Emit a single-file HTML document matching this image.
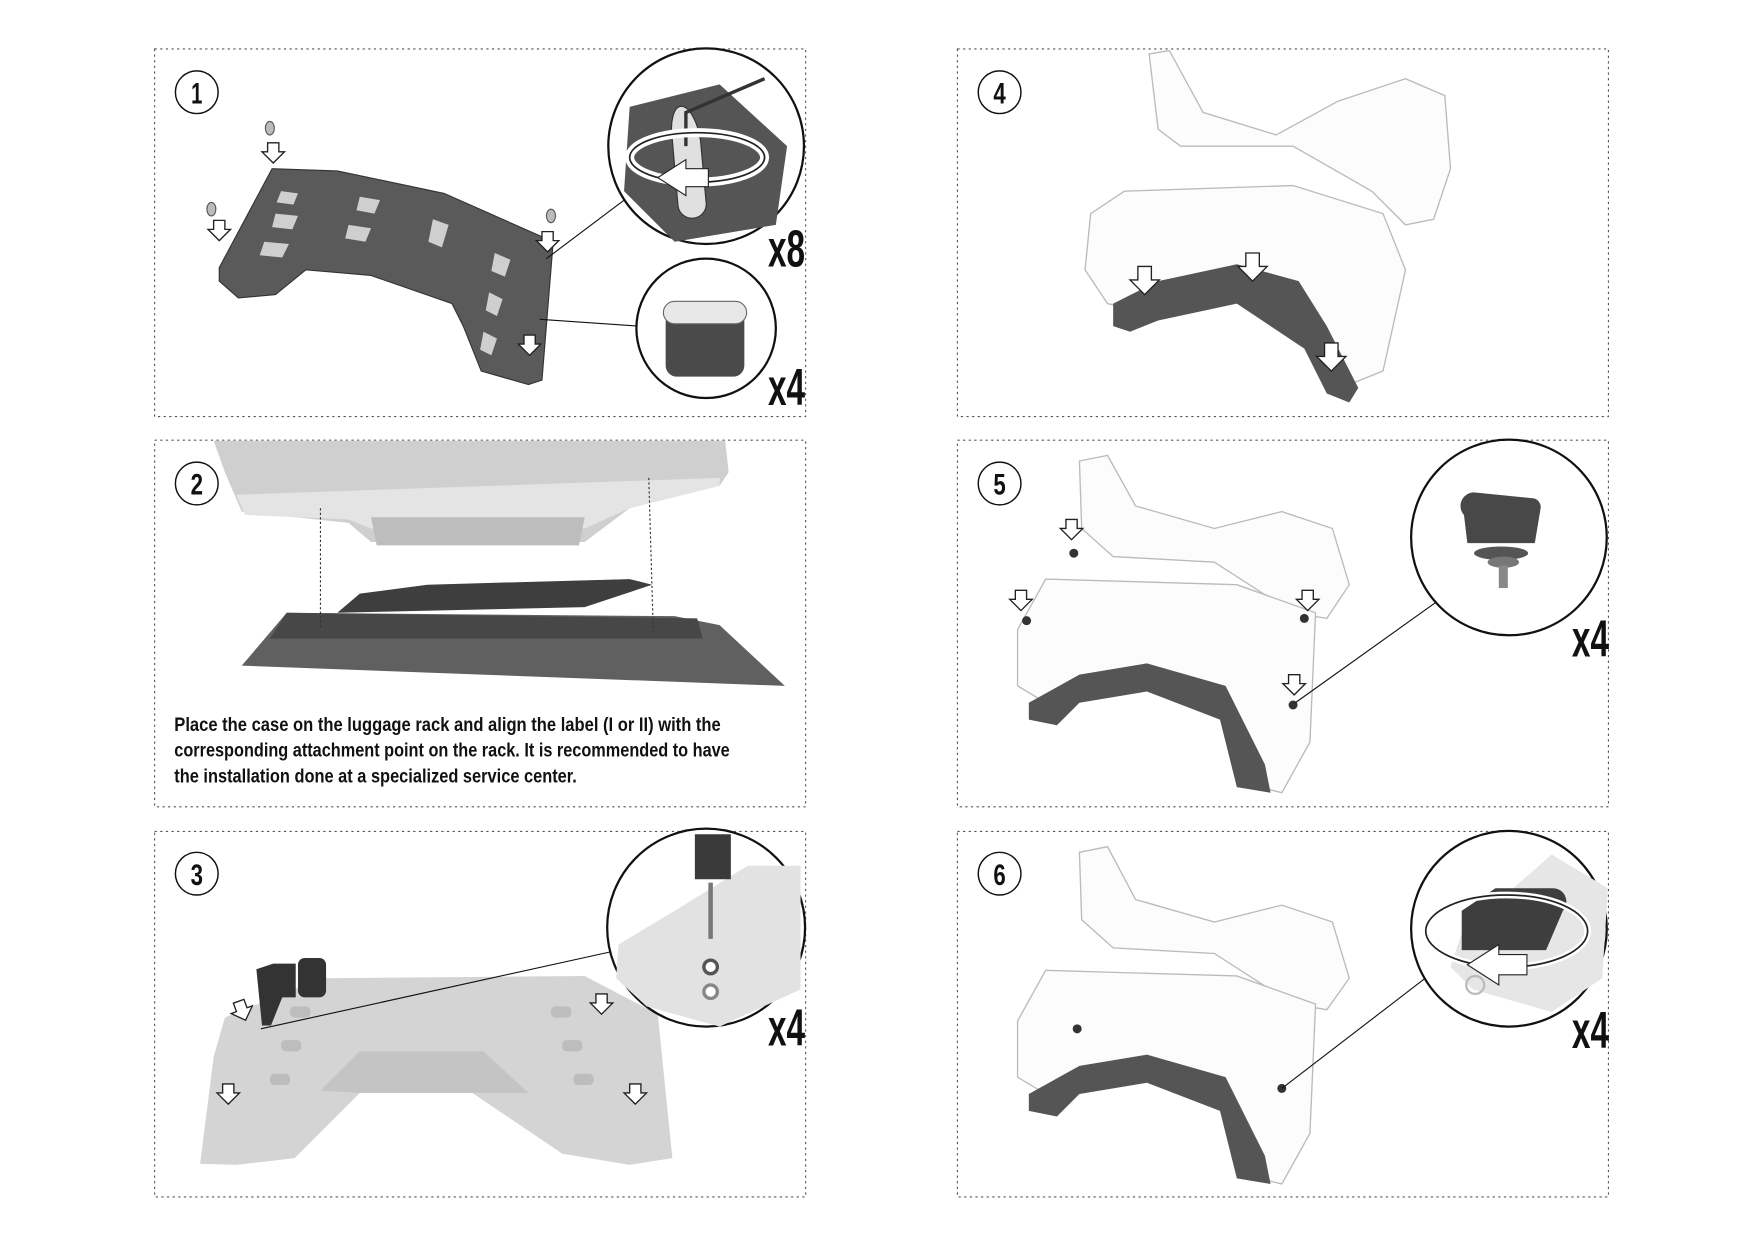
<!DOCTYPE html>
<html><head><meta charset="utf-8"><style>
html,body{margin:0;padding:0;background:#fff;}
svg{display:block;}
</style></head><body>
<svg width="1754" height="1241" viewBox="0 0 1754 1241" xmlns="http://www.w3.org/2000/svg">
<rect width="1754" height="1241" fill="#fff"/>
<g transform="scale(1.1244)" font-family="'Liberation Sans Narrow','Liberation Sans',sans-serif" font-weight="bold">
<!-- panels -->
<g fill="none" stroke="#555" stroke-width="1" stroke-dasharray="2,3">
<rect x="137.5" y="43.5" width="579" height="327"/>
<rect x="137.5" y="391.5" width="579" height="326"/>
<rect x="137.5" y="739.5" width="579" height="325"/>
<rect x="851.5" y="43.5" width="579" height="327"/>
<rect x="851.5" y="391.5" width="579" height="326"/>
<rect x="851.5" y="739.5" width="579" height="325"/>
</g>
<!-- step number circles -->
<g fill="#fff" stroke="#111" stroke-width="1.3">
<circle cx="175" cy="82" r="19"/><circle cx="175" cy="430" r="19"/><circle cx="175" cy="777" r="19"/>
<circle cx="889" cy="82" r="19"/><circle cx="889" cy="430" r="19"/><circle cx="889" cy="777" r="19"/>
</g>
<g font-size="26" text-anchor="middle" fill="#111">
<text x="175" y="92" textLength="10" lengthAdjust="spacingAndGlyphs">1</text>
<text x="175" y="440" textLength="11" lengthAdjust="spacingAndGlyphs">2</text>
<text x="175" y="787" textLength="11" lengthAdjust="spacingAndGlyphs">3</text>
<text x="889" y="92" textLength="11" lengthAdjust="spacingAndGlyphs">4</text>
<text x="889" y="440" textLength="11" lengthAdjust="spacingAndGlyphs">5</text>
<text x="889" y="787" textLength="11" lengthAdjust="spacingAndGlyphs">6</text>
</g>

<!-- PANEL 1 rack -->
<path d="M195,238 L242,150 L300,152 L395,172 L492,215 L482,338 L470,342 L428,330 L412,290 L402,270 L330,245 L272,240 L245,262 L212,265 L195,250Z" fill="#5a5a5a" stroke="#333"/>
<g fill="#cfcfcf">
<path d="M250,170 l15,2 -4,10 -15,-2z"/><path d="M245,190 l20,2 -5,12 -18,-2z"/><path d="M235,215 l22,2 -6,12 -20,-2z"/>
<path d="M320,175 l18,3 -5,12 -16,-3z"/><path d="M310,200 l20,3 -5,12 -18,-3z"/>
<path d="M385,195 l14,5 -6,20 -12,-5z"/><path d="M440,225 l14,6 -5,15 -12,-5z"/><path d="M435,260 l12,6 -5,15 -10,-5z"/><path d="M430,295 l12,6 -5,15 -10,-5z"/>
</g>
<g fill="#fff" stroke="#222" stroke-width="1.2">
<path d="M238,127 h10 v8 h5 l-10,10 -10,-10 h5z"/>
<path d="M190,196 h10 v8 h5 l-10,10 -10,-10 h5z"/>
<path d="M482,206 h10 v8 h5 l-10,10 -10,-10 h5z"/>
<path d="M466,298 h10 v8 h5 l-10,10 -10,-10 h5z"/>
</g>
<g fill="#bbb" stroke="#555"><ellipse cx="240" cy="114" rx="4" ry="6"/><ellipse cx="188" cy="186" rx="4" ry="6"/><ellipse cx="490" cy="192" rx="4" ry="6"/></g>
<line x1="486" y1="230" x2="555" y2="178" stroke="#111"/>
<line x1="480" y1="284" x2="568" y2="290" stroke="#111"/>
<!-- zoom circle 1 -->
<circle cx="628" cy="130" r="87" fill="#fff" stroke="#111" stroke-width="2"/>
<path d="M560,95 L640,75 L700,130 L690,200 L600,215 L555,170Z" fill="#555"/>
<path d="M598,125 a12,30 -10 0 1 25,0 l5,55 a12,12 0 0 1 -25,3z" fill="#e0e0e0" stroke="#333"/>
<path d="M610,130 L610,100 L680,70" fill="none" stroke="#333" stroke-width="3"/>
<ellipse cx="620" cy="140" rx="60" ry="22" fill="none" stroke="#fff" stroke-width="8"/>
<ellipse cx="620" cy="140" rx="60" ry="22" fill="none" stroke="#222" stroke-width="1.5"/>
<path d="M585,158 l25,-16 v8 h20 v16 h-20 v8z" fill="#fff" stroke="#222"/>
<text x="683" y="237" font-size="46" fill="#111" textLength="33" lengthAdjust="spacingAndGlyphs">x8</text>
<!-- zoom circle 2 -->
<circle cx="628" cy="292" r="62" fill="#fff" stroke="#111" stroke-width="2"/>
<path d="M592,285 h70 v40 a10,10 0 0 1 -10,10 h-50 a10,10 0 0 1 -10,-10z" fill="#4a4a4a"/>
<rect x="590" y="268" width="74" height="20" rx="10" fill="#e8e8e8" stroke="#666"/>
<text x="683" y="360" font-size="46" fill="#111" textLength="33" lengthAdjust="spacingAndGlyphs">x4</text>

<!-- PANEL 2 -->
<path d="M190,392 L645,392 L648,420 L640,432 L560,452 L520,482 L330,482 L310,465 L215,455 L200,420Z" fill="#cfcfcf"/>
<path d="M210,440 L640,425 L640,432 L560,452 L520,470 L330,470 L310,462 L218,458Z" fill="#e4e4e4"/>
<path d="M330,460 h190 l-5,25 h-180z" fill="#bdbdbd"/>
<path d="M320,528 L380,520 L560,515 L580,520 L520,540 L300,545Z" fill="#3e3e3e"/>
<path d="M255,545 L600,548 L640,556 L698,610 L215,592Z" fill="#606060"/>
<path d="M255,545 L620,550 L625,568 L240,568Z" fill="#474747"/>
<g stroke="#333" stroke-dasharray="2,2"><line x1="285" y1="452" x2="285" y2="560"/><line x1="577" y1="425" x2="581" y2="562"/></g>
<g font-size="17" fill="#111">
<text x="155" y="650" textLength="486" lengthAdjust="spacingAndGlyphs">Place the case on the luggage rack and align the label (I or II) with the</text>
<text x="155" y="673" textLength="494" lengthAdjust="spacingAndGlyphs">corresponding attachment point on the rack. It is recommended to have</text>
<text x="155" y="696" textLength="358" lengthAdjust="spacingAndGlyphs">the installation done at a specialized service center.</text>
</g>

<!-- PANEL 3 -->
<path d="M178,1035 L190,940 L200,905 L285,870 L520,868 L585,902 L598,1030 L560,1036 L500,1026 L420,972 L320,972 L262,1030 L210,1036Z" fill="#d4d4d4"/>
<path d="M285,970 L320,935 L430,935 L470,972 L420,972 L320,972Z" fill="#c4c4c4"/>
<g fill="#bdbdbd"><rect x="258" y="895" width="18" height="10" rx="4"/><rect x="250" y="925" width="18" height="10" rx="4"/><rect x="240" y="955" width="18" height="10" rx="4"/><rect x="490" y="895" width="18" height="10" rx="4"/><rect x="500" y="925" width="18" height="10" rx="4"/><rect x="510" y="955" width="18" height="10" rx="4"/></g>
<path d="M228,862 l15,-5 20,0 v30 h-12 l-10,25 h-8z" fill="#333"/><rect x="265" y="852" width="25" height="35" rx="6" fill="#333"/>
<g fill="#fff" stroke="#222" stroke-width="1.2">
<path d="M210,890 h10 v8 h5 l-10,10 -10,-10 h5z" transform="rotate(-20 215 898)"/>
<path d="M530,884 h10 v8 h5 l-10,10 -10,-10 h5z"/>
<path d="M198,964 h10 v8 h5 l-10,10 -10,-10 h5z"/>
<path d="M560,964 h10 v8 h5 l-10,10 -10,-10 h5z"/>
</g>
<line x1="232" y1="915" x2="550" y2="845" stroke="#111"/>
<circle cx="628" cy="825" r="88" fill="#fff" stroke="#111" stroke-width="2"/>
<path d="M550,840 L600,810 L665,770 L712,770 L712,880 L640,913 L575,895 L548,870Z" fill="#e2e2e2"/>
<path d="M618,742 h32 v40 h-32z" fill="#3a3a3a"/>
<line x1="632" y1="785" x2="632" y2="835" stroke="#777" stroke-width="4"/>
<circle cx="632" cy="860" r="6" fill="#fff" stroke="#555" stroke-width="3"/><circle cx="632" cy="882" r="6" fill="#fff" stroke="#888" stroke-width="3"/>
<text x="683" y="930" font-size="46" fill="#111" textLength="33" lengthAdjust="spacingAndGlyphs">x4</text>

<!-- PANEL 4 -->
<g fill="#fcfcfc" stroke="#bbb" stroke-width="1.2">
<path d="M1022,48 L1040,45 L1070,100 L1135,120 L1190,90 L1250,70 L1285,85 L1290,150 L1275,195 L1250,200 L1220,170 L1150,130 L1050,130 L1030,115Z"/>
<path d="M970,190 L1000,170 L1150,165 L1230,190 L1250,240 L1230,330 L1205,340 L1180,310 L1100,260 L1030,280 L985,270 L965,240Z"/>
</g>
<path d="M990,270 L1030,250 L1100,235 L1155,250 L1180,290 L1208,345 L1200,358 L1180,350 L1160,310 L1100,270 L1030,285 L1005,295 L990,290Z" fill="#555"/>
<g fill="#fff" stroke="#222" stroke-width="1.2">
<path d="M1012,237 h12 v12 h7 l-13,13 -13,-13 h7z"/>
<path d="M1108,225 h12 v12 h7 l-13,13 -13,-13 h7z"/>
<path d="M1178,305 h12 v12 h7 l-13,13 -13,-13 h7z"/>
</g>

<!-- PANEL 5 -->
<g fill="#fcfcfc" stroke="#bbb" stroke-width="1.2">
<path d="M960,410 L985,405 L1010,450 L1080,470 L1140,455 L1185,470 L1200,520 L1180,550 L1150,545 L1080,500 L990,495 L962,470Z"/>
<path d="M905,560 L930,515 L1100,520 L1170,545 L1165,660 L1140,705 L1120,700 L1090,620 L1010,600 L930,625 L905,610Z"/>
</g>
<path d="M915,625 L960,600 L1020,590 L1090,610 L1125,680 L1130,705 L1100,700 L1085,640 L1020,615 L960,625 L940,645 L915,640Z" fill="#555"/>
<g fill="#fff" stroke="#222" stroke-width="1.2">
<path d="M948,462 h10 v8 h5 l-10,10 -10,-10 h5z"/>
<path d="M903,525 h10 v8 h5 l-10,10 -10,-10 h5z"/>
<path d="M1158,525 h10 v8 h5 l-10,10 -10,-10 h5z"/>
<path d="M1146,600 h10 v8 h5 l-10,10 -10,-10 h5z"/>
</g>
<g fill="#333"><circle cx="955" cy="492" r="4"/><circle cx="913" cy="552" r="4"/><circle cx="1160" cy="550" r="4"/><circle cx="1150" cy="627" r="4"/></g>
<line x1="1152" y1="625" x2="1278" y2="535" stroke="#111"/>
<circle cx="1342" cy="478" r="87" fill="#fff" stroke="#111" stroke-width="2"/>
<path d="M1302,458 a12,12 0 0 1 10,-20 l50,5 a8,8 0 0 1 8,10 l-5,30 h-60z" fill="#484848"/>
<ellipse cx="1335" cy="492" rx="24" ry="6" fill="#555"/>
<ellipse cx="1337" cy="500" rx="14" ry="5" fill="#777"/>
<rect x="1333" y="503" width="8" height="20" fill="#888"/>
<text x="1398" y="584" font-size="46" fill="#111" textLength="33" lengthAdjust="spacingAndGlyphs">x4</text>

<!-- PANEL 6 -->
<g fill="#fcfcfc" stroke="#bbb" stroke-width="1.2">
<path d="M960,758 L985,753 L1010,800 L1080,820 L1140,805 L1185,820 L1200,870 L1180,898 L1150,893 L1080,848 L990,843 L962,818Z"/>
<path d="M905,908 L930,863 L1100,868 L1170,893 L1165,1008 L1140,1053 L1120,1048 L1090,968 L1010,948 L930,973 L905,958Z"/>
</g>
<path d="M915,973 L960,948 L1020,938 L1090,958 L1125,1028 L1130,1053 L1100,1048 L1085,988 L1020,963 L960,973 L940,993 L915,988Z" fill="#555"/>
<g fill="#333"><circle cx="958" cy="915" r="4"/><circle cx="1140" cy="968" r="4"/></g>
<line x1="1140" y1="968" x2="1278" y2="862" stroke="#111"/>
<circle cx="1342" cy="826" r="87" fill="#fff" stroke="#111" stroke-width="2"/>
<path d="M1380,760 L1430,790 L1425,870 L1380,900 L1310,880 L1290,860 L1300,830Z" fill="#e6e6e6"/>
<path d="M1300,810 l30,-20 h50 a12,12 0 0 1 10,20 l-15,35 h-75z" fill="#3e3e3e"/>
<ellipse cx="1340" cy="828" rx="72" ry="32" fill="none" stroke="#fff" stroke-width="6"/>
<ellipse cx="1340" cy="828" rx="72" ry="32" fill="none" stroke="#222" stroke-width="1.5"/>
<path d="M1305,858 l28,-18 v9 h25 v18 h-25 v9z" fill="#fff" stroke="#222"/>
<circle cx="1312" cy="876" r="8" fill="none" stroke="#bbb" stroke-width="2"/>
<text x="1398" y="932" font-size="46" fill="#111" textLength="33" lengthAdjust="spacingAndGlyphs">x4</text>
</g>
</svg>
</body></html>
